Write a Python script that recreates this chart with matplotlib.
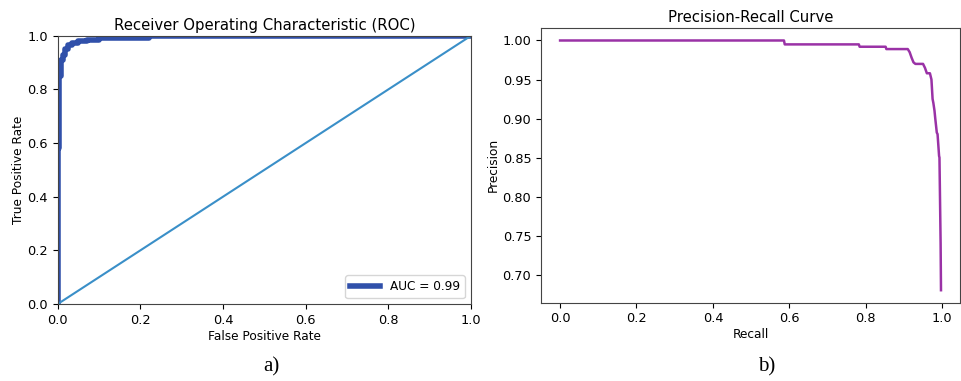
import matplotlib
matplotlib.use("Agg")
import matplotlib.pyplot as plt

# ROC curve points
fpr = [0.0, 0.0, 0.004, 0.004, 0.008, 0.008, 0.012, 0.012, 0.018, 0.018, 0.025, 0.025,
       0.035, 0.035, 0.05, 0.05, 0.07, 0.07, 0.1, 0.1, 0.22, 0.22, 1.0]
tpr = [0.0, 0.58, 0.58, 0.85, 0.85, 0.91, 0.91, 0.93, 0.93, 0.95, 0.95, 0.965,
       0.965, 0.975, 0.975, 0.98, 0.98, 0.985, 0.985, 0.99, 0.99, 1.0, 1.0]
auc_label = "AUC = 0.99"

# Precision-recall curve points
recall = [0.0, 0.586, 0.588, 0.782, 0.784, 0.852, 0.854, 0.910, 0.915, 0.920, 0.925,
          0.930, 0.950, 0.955, 0.960, 0.968, 0.972, 0.975, 0.977, 0.980, 0.982, 0.986,
          0.988, 0.992, 0.993, 0.996, 0.997]
precision = [1.000, 1.000, 0.995, 0.995, 0.992, 0.992, 0.989, 0.989, 0.985, 0.978, 0.972,
             0.970, 0.970, 0.965, 0.958, 0.958, 0.950, 0.925, 0.920, 0.910, 0.900, 0.882,
             0.880, 0.852, 0.850, 0.740, 0.680]

fig = plt.figure(figsize=(9.61, 3.81), dpi=100)

tick_fs = 9.3
label_fs = 8.7
title_fs = 10.7

# a) ROC
ax1 = fig.add_axes([0.060, 0.202, 0.430, 0.704])
ax1.plot(fpr, tpr, color="#3050aa", linewidth=4, label=auc_label)
ax1.plot([0, 1], [0, 1], color="#3a8fc8", linewidth=1.5)
ax1.set_xlim(0, 1)
ax1.set_ylim(0, 1)
ax1.set_title("Receiver Operating Characteristic (ROC)", fontsize=title_fs, pad=4)
ax1.set_xlabel("False Positive Rate", fontsize=label_fs, labelpad=2)
ax1.set_ylabel("True Positive Rate", fontsize=label_fs, labelpad=2)
ax1.tick_params(labelsize=tick_fs)
ax1.legend(loc="lower right", fontsize=8.7, handlelength=2.5)

# b) Precision-Recall
ax2 = fig.add_axes([0.563, 0.2055, 0.436, 0.721])
ax2.plot(recall, precision, color="#9a32a6", linewidth=1.8)
ax2.set_title("Precision-Recall Curve", fontsize=title_fs, pad=4)
ax2.set_xlabel("Recall", fontsize=label_fs, labelpad=2)
ax2.set_ylabel("Precision", fontsize=label_fs, labelpad=2)
ax2.set_yticks([0.70, 0.75, 0.80, 0.85, 0.90, 0.95, 1.00])
ax2.tick_params(labelsize=tick_fs)

for ax in (ax1, ax2):
    for sp in ax.spines.values():
        sp.set_color("#444444")

fig.text(271 / 961, 1 - 367 / 381, "a)", ha="center", va="center",
         fontsize=15, family="Liberation Serif")
fig.text(767 / 961, 1 - 367 / 381, "b)", ha="center", va="center",
         fontsize=15, family="Liberation Serif")

fig.savefig("out.png", dpi=100)
